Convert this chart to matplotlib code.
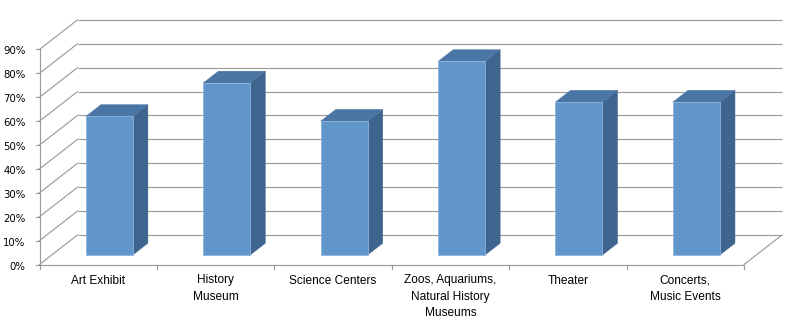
import matplotlib
matplotlib.use("Agg")
import matplotlib.pyplot as plt
from matplotlib.patches import Polygon

# Data
categories = ["Art Exhibit", "History\nMuseum", "Science Centers",
              "Zoos, Aquariums,\nNatural History\nMuseums", "Theater",
              "Concerts,\nMusic Events"]
values = [0.58, 0.72, 0.56, 0.81, 0.64, 0.64]
tick_values = [0.0, 0.1, 0.2, 0.3, 0.4, 0.5, 0.6, 0.7, 0.8, 0.9]
tick_labels = ["0%", "10%", "20%", "30%", "40%", "50%", "60%", "70%", "80%", "90%"]

# Figure / projection set-up (oblique 3D look drawn in 2D data space)
W, H, DPI = 787, 322, 100
fig = plt.figure(figsize=(W / DPI, H / DPI), dpi=DPI)
ax = fig.add_axes([0, 0, 1, 1])
ax.set_axis_off()

n = len(categories)
x_left_px, x_right_px = 39.5, 744.0
px_per_cat = (x_right_px - x_left_px) / n
y0_px = 264.5          # front floor, pixel row from top
px_per_unit = 239.0    # pixels for 100 %
depth_dx_px, depth_dy_px = 38.0, 29.5

ax.set_xlim(-0.5 - x_left_px / px_per_cat, -0.5 + (W - x_left_px) / px_per_cat)
ax.set_ylim(-(H - y0_px) / px_per_unit, y0_px / px_per_unit)

DX = depth_dx_px / px_per_cat
DY = depth_dy_px / px_per_unit
px_x = 1.0 / px_per_cat
px_y = 1.0 / px_per_unit

xmin, xmax = -0.5, n - 0.5
vmax = tick_values[-1]
grid_c = "#9c9c9c"
lw = 0.85

# Back wall gridlines and left wall diagonals
for v, lab in zip(tick_values, tick_labels):
    ax.plot([xmin + DX, xmax + DX], [v + DY, v + DY], color=grid_c, lw=lw, zorder=1,
            solid_capstyle="butt")
    ax.plot([xmin, xmin + DX], [v, v + DY], color=grid_c, lw=lw, zorder=1)
    # tick mark on value axis
    ax.plot([xmin - 4 * px_x, xmin], [v, v], color=grid_c, lw=lw, zorder=1)
    ax.text(xmin - 14 * px_x, v - 2 * px_y, lab, ha="right",
            va="center", fontsize=7.3, family="DejaVu Sans", color="black")

# Value axis line (front left edge)
ax.plot([xmin, xmin], [0, vmax], color=grid_c, lw=lw, zorder=1)

# Floor: front edge, right edge, category ticks
ax.plot([xmin, xmax], [0, 0], color=grid_c, lw=lw, zorder=1)
ax.plot([xmax, xmax + DX], [0, DY], color=grid_c, lw=lw, zorder=1)
for k in range(n + 1):
    xt = xmin + k
    ax.plot([xt, xt], [0, -4 * px_y], color=grid_c, lw=lw, zorder=1)

# Bars
front_c = "#6096c9"
top_c = "#4a76a5"
side_c = "#3f658e"
edge_c = "#8db3dd"
bw = 0.40
f0, f1 = 0.32, 0.72
shift_x = 0.29 * DX
xs = list(range(n))
front_x = [x + shift_x for x in xs]
ax.bar(front_x, values, width=bw, bottom=f0 * DY, color=front_c,
       edgecolor=edge_c, linewidth=0.6, zorder=4)
d = (f1 - f0)
for x, v in zip(front_x, values):
    l, r = x - bw / 2, x + bw / 2
    b, t = f0 * DY, v + f0 * DY
    side = Polygon([(r, b), (r + d * DX, b + d * DY), (r + d * DX, t + d * DY), (r, t)],
                   closed=True, facecolor=side_c, edgecolor=side_c, lw=0.3, zorder=3)
    top = Polygon([(l, t), (r, t), (r + d * DX, t + d * DY), (l + d * DX, t + d * DY)],
                  closed=True, facecolor=top_c, edgecolor=top_c, lw=0.3, zorder=3)
    ax.add_patch(side)
    ax.add_patch(top)

# Category labels
for x, lab in zip(xs, categories):
    ax.text(x, -10 * px_y, lab, ha="center", va="top", fontsize=8.6,
            family="Liberation Sans", linespacing=1.5, color="black")

fig.savefig("out.png", dpi=DPI)
